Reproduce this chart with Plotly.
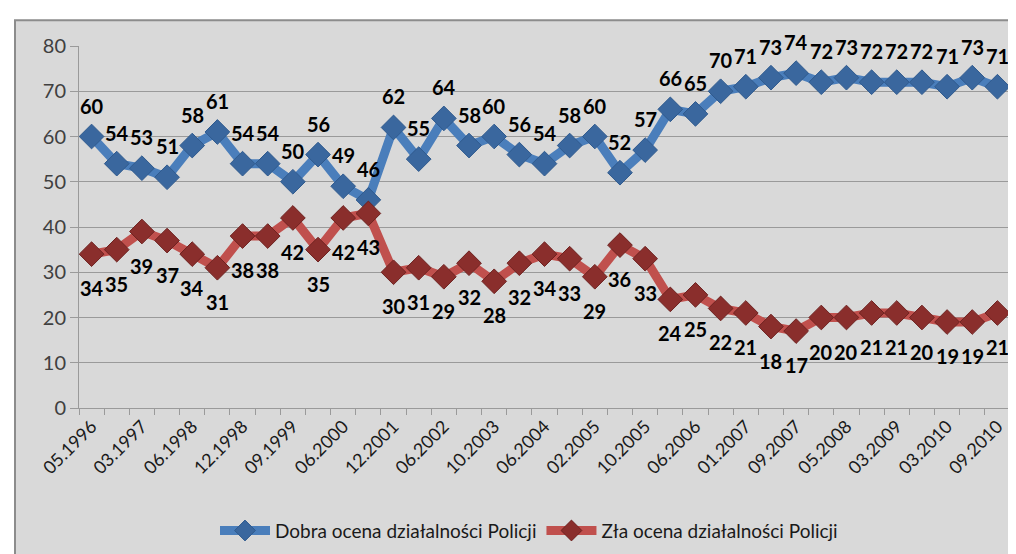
import plotly.graph_objects as go

tick_labels = ["05.1996", "03.1997", "06.1998", "12.1998", "09.1999", "06.2000",
               "12.2001", "06.2002", "10.2003", "06.2004", "02.2005", "10.2005",
               "06.2006", "01.2007", "09.2007", "05.2008", "03.2009", "03.2010",
               "09.2010"]

dobra = [60, 54, 53, 51, 58, 61, 54, 54, 50, 56, 49, 46, 62, 55, 64, 58, 60, 56,
         54, 58, 60, 52, 57, 66, 65, 70, 71, 73, 74, 72, 73, 72, 72, 72, 71, 73, 71]
zla = [34, 35, 39, 37, 34, 31, 38, 38, 42, 35, 42, 43, 30, 31, 29, 32, 28, 32,
       34, 33, 29, 36, 33, 24, 25, 22, 21, 18, 17, 20, 20, 21, 21, 20, 19, 19, 21]

x = list(range(len(dobra)))
tickvals = x[::2]

FONT = "Lato, 'Open Sans', sans-serif"

fig = go.Figure()
fig.add_trace(go.Scatter(
    x=x, y=dobra, mode="lines+markers", name="Dobra ocena działalności Policji",
    line=dict(color="#4a7ebb", width=9),
    marker=dict(symbol="diamond", size=19, color="#3a679e",
                line=dict(color="#2f5a8e", width=1)),
))
fig.add_trace(go.Scatter(
    x=x, y=zla, mode="lines+markers", name="Zła ocena działalności Policji",
    line=dict(color="#c0504d", width=9),
    marker=dict(symbol="diamond", size=19, color="#8a2e2c",
                line=dict(color="#6e2220", width=1)),
))

annotations = []
for xi, v in zip(x, dobra):
    annotations.append(dict(x=xi, y=v, text=str(v), showarrow=False, yshift=31,
                            font=dict(family=FONT, size=20, color="#000000", weight="bold")))
for xi, v in zip(x, zla):
    annotations.append(dict(x=xi, y=v, text=str(v), showarrow=False, yshift=-34,
                            font=dict(family=FONT, size=20, color="#000000", weight="bold")))

L, R, T, B = 71, 14, 38, 150
W, H = 1016, 554
pw, ph = W - L - R, H - T - B

def px(xp):
    return (xp - L) / pw

def py(yp):
    return (H - B - yp) / ph

fig.update_layout(
    width=W, height=H,
    margin=dict(l=L, r=R, t=T, b=B),
    paper_bgcolor="#ffffff",
    plot_bgcolor="#dce6f2",
    font=dict(family=FONT, color="#404040"),
    showlegend=True,
    legend=dict(orientation="h", x=px(521), y=py(528), xanchor="center", yanchor="middle",
                font=dict(family=FONT, size=19, color="#1a1a1a"),
                bgcolor="rgba(0,0,0,0)", itemwidth=50, tracegroupgap=0),
    annotations=annotations,
    shapes=[dict(type="rect", xref="paper", yref="paper",
                 x0=px(7), x1=px(1030), y0=py(600), y1=py(12),
                 fillcolor="#d9d9d9", line=dict(color="#8c8c8c", width=2),
                 layer="below")],
    xaxis=dict(range=[-0.5, len(x) - 0.5], tickmode="array", tickvals=tickvals,
               ticktext=tick_labels, tickangle=-45, ticks="", showgrid=False,
               zeroline=False, showline=True, linecolor="#9a9a9a", linewidth=1,
               tickfont=dict(family=FONT, size=18, color="#1a1a1a"),
               minor=dict(ticks="outside", tickmode="linear", tick0=-0.5, dtick=1,
                          ticklen=6, tickcolor="#9a9a9a", showgrid=False)),
    yaxis=dict(range=[0, 80], dtick=10, showgrid=True, gridcolor="#9a9a9a",
               gridwidth=1, zeroline=False, showline=True, linecolor="#9a9a9a",
               ticks="outside", ticklen=8, tickcolor="#9a9a9a",
               tickfont=dict(family=FONT, size=20, color="#404040")),
)

fig.write_html("out.html")
